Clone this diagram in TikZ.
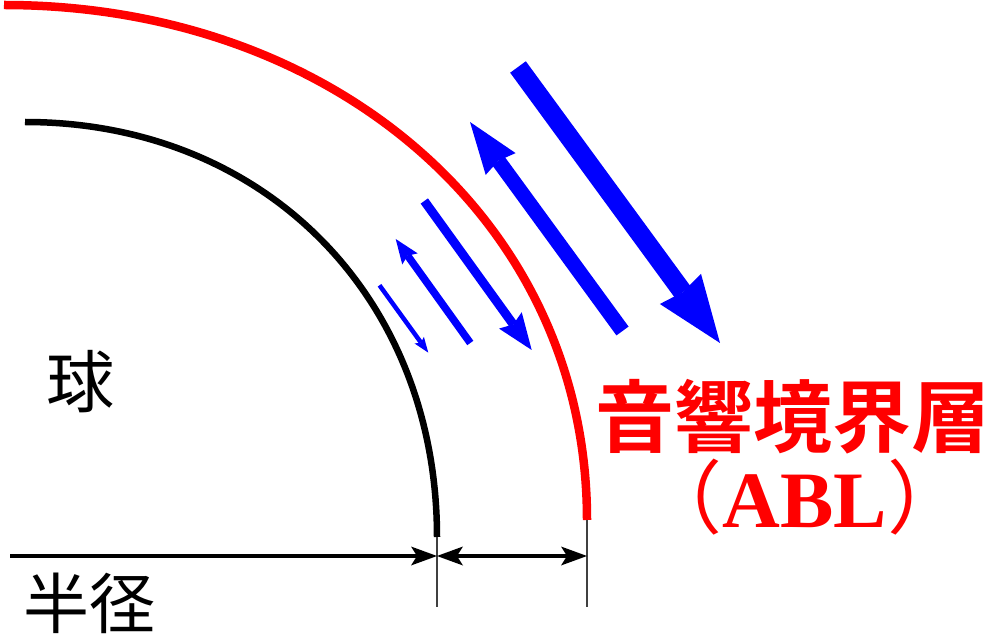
\documentclass[tikz,border=0pt]{standalone}
\usepackage{fontspec}
\usetikzlibrary{arrows.meta}
\newfontfamily\cjk{Noto Sans CJK JP}
\newfontfamily\cjkb{Noto Sans CJK JP Bold}
\newfontfamily\ablfont{Liberation Serif}
\tikzset{
  sphere/.style={line width=6.5pt},
  abllayer/.style={red,line width=8.5pt},
  tick/.style={black!75,line width=1.4pt},
  dim/.style={line width=3.3pt},
  dtip/.tip={Stealth[length=26pt,width=19pt,inset=6pt,line width=0pt]},
  wave/.style={blue},
  lbl/.style={inner sep=0pt},
}
\begin{document}
\begin{tikzpicture}[x=1pt,y=-1pt]
\useasboundingbox (0,0) rectangle (991,636);
% arcs
\coordinate (bs) at (25,122);
\coordinate (be) at (437,537);
\draw[sphere] (bs) .. controls (264,122) and (437,296.3) .. (be);
\coordinate (rs) at (4,5);
\coordinate (re) at (587,520);
\draw[abllayer] (rs) .. controls (333.4,5) and (587,221.3) .. (re);
% ticks
\coordinate (t1) at (437,607);
\coordinate (t2) at (587,607);
\draw[tick] (be) -- (t1);
\draw[tick] (re) -- (t2);
% dimension arrows
\coordinate (d0) at (10,556);
\coordinate (d1) at (437,556);
\coordinate (d2) at (587,556);
\draw[dim,-dtip] (d0) -- (d1);
\draw[dim,dtip-dtip] (d1) -- (d2);
% blue arrows
\coordinate (a0) at (379.5,285.3); \coordinate (a1) at (428.3,352.7);
\coordinate (b0) at (470.3,343);   \coordinate (b1) at (395.7,239);
\coordinate (c0) at (424.3,201);   \coordinate (c1) at (531.7,350);
\coordinate (e0) at (622.5,331);   \coordinate (e1) at (470,122);
\coordinate (f0) at (518,67);      \coordinate (f1) at (720,343);
\draw[wave,line width=4.5pt,-{Stealth[length=15.5pt,width=11.5pt,inset=3pt,line width=0pt]}] (a0) -- (a1);
\draw[wave,line width=7.5pt,-{Stealth[length=24.5pt,width=19pt,inset=4pt,line width=0pt]}] (b0) -- (b1);
\draw[wave,line width=9pt,-{Stealth[length=36.5pt,width=28pt,inset=5pt,line width=0pt]}] (c0) -- (c1);
\draw[wave,line width=15pt,-{Stealth[length=52pt,width=37pt,inset=4pt,line width=0pt]}] (e0) -- (e1);
\draw[wave,line width=19.4pt,-{Stealth[length=67pt,width=51pt,inset=4pt,line width=0pt]}] (f0) -- (f1);
% labels
\node[lbl,font=\cjk\fontsize{68}{68}\selectfont] (kyu) at (80,382) {球};
\node[lbl,font=\cjk\fontsize{66}{66}\selectfont] (hankei) at (89.5,603.5) {半径};
\node[lbl,red,font=\cjkb\fontsize{79}{79}\selectfont] (title) at (793,417) {音響境界層};
\node[lbl,red,anchor=base,font=\fontsize{80}{80}\selectfont] (abl) at (805,527) {{\cjk （}{\ablfont\bfseries ABL}{\cjk ）}};
\end{tikzpicture}
\end{document}
